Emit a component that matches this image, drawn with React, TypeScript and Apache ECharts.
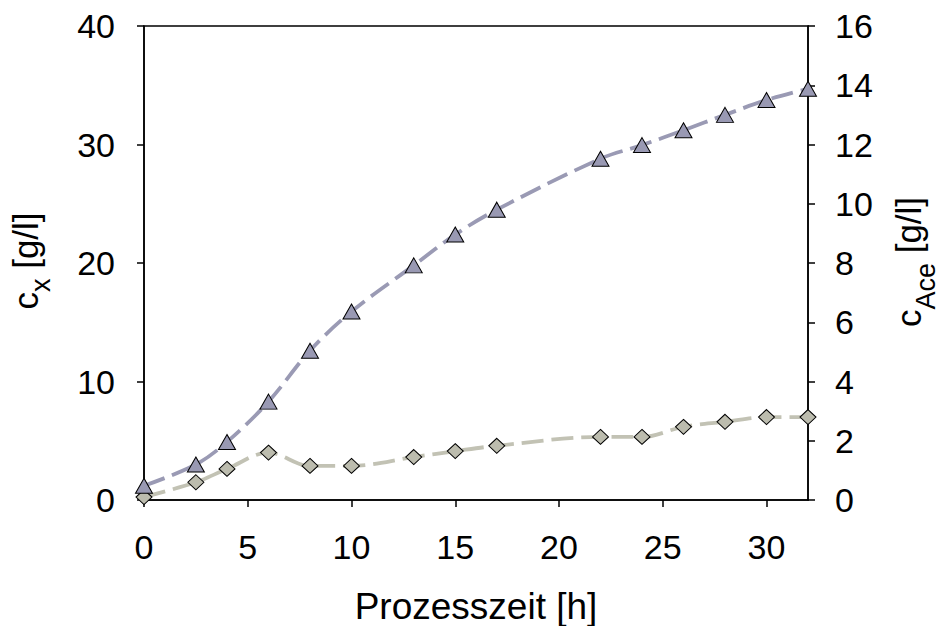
import React, { useEffect, useRef } from "react";
import * as echarts from "echarts";

const timeH = [0, 2.5, 4, 6, 8, 10, 13, 15, 17, 22, 24, 26, 28, 30, 32];
const biomass = [1.2, 3.0, 4.9, 8.3, 12.6, 15.9, 19.8, 22.4, 24.5, 28.8, 29.95, 31.2, 32.5, 33.75, 34.7];
const acetate = [0.1, 0.6, 1.05, 1.6, 1.15, 1.15, 1.45, 1.65, 1.83, 2.13, 2.13, 2.47, 2.64, 2.8, 2.8];
const xTicks = [0, 5, 10, 15, 20, 25, 30];

const FONT = "'Liberation Sans', Arial, sans-serif";
const MAIN_SIZE = 35;
const SUB_SIZE = 27;

function measure(text: string, size: number): number {
  const c = document.createElement("canvas");
  const ctx = c.getContext("2d");
  if (!ctx) return text.length * size * 0.55;
  ctx.font = `${size}px ${FONT}`;
  return ctx.measureText(text).width;
}

function subTitle(main: string, sub: string, rest: string, cx: number, cy: number, dy: number) {
  const w1 = measure(main, MAIN_SIZE);
  const w2 = measure(sub, SUB_SIZE);
  const w3 = measure(rest, MAIN_SIZE);
  const start = -(w1 + w2 + w3) / 2;
  const base = { fill: "#000", fontFamily: FONT, align: "left", verticalAlign: "middle" };
  return {
    type: "group",
    x: cx,
    y: cy,
    rotation: Math.PI / 2,
    children: [
      { type: "text", x: start, y: 0, style: { ...base, text: main, fontSize: MAIN_SIZE } },
      { type: "text", x: start + w1, y: dy, style: { ...base, text: sub, fontSize: SUB_SIZE } },
      { type: "text", x: start + w1 + w2, y: 0, style: { ...base, text: rest, fontSize: MAIN_SIZE } },
    ],
  };
}

export default function App() {
  const ref = useRef<HTMLDivElement>(null);
  useEffect(() => {
    if (!ref.current) return;
    const chart = echarts.init(ref.current, null, { renderer: "svg" });
    const labelStyle = { color: "#000", fontSize: 34, fontFamily: FONT };
    const axisLine = { show: true, lineStyle: { color: "#000", width: 1.5 } };
    const axisTick = { show: true, inside: false, length: 7, lineStyle: { color: "#000", width: 1.5 } };
    chart.setOption({
      animation: false,
      backgroundColor: "#fff",
      grid: { left: 144, top: 26, right: 132, bottom: 126, show: true, borderColor: "#000", borderWidth: 1.5, containLabel: false },
      xAxis: {
        type: "value",
        min: 0,
        max: 32,
        interval: 5,
        axisLine,
        axisTick: { ...axisTick, customValues: xTicks },
        axisLabel: { ...labelStyle, margin: 30, customValues: xTicks },
        splitLine: { show: false },
      },
      yAxis: [
        {
          type: "value",
          min: 0,
          max: 40,
          interval: 10,
          position: "left",
          axisLine,
          axisTick,
          axisLabel: { ...labelStyle, margin: 29 },
          splitLine: { show: false },
        },
        {
          type: "value",
          min: 0,
          max: 16,
          interval: 2,
          position: "right",
          axisLine,
          axisTick,
          axisLabel: { ...labelStyle, margin: 27 },
          splitLine: { show: false },
        },
      ],
      series: [
        {
          type: "line",
          yAxisIndex: 1,
          data: timeH.map((t, i) => [t, acetate[i]]),
          smooth: 0.35,
          clip: false,
          symbol: "diamond",
          symbolSize: [16, 15],
          lineStyle: { color: "#c2c2b4", width: 3.8, type: [22, 8] },
          itemStyle: { color: "#bcbcae", borderColor: "#000", borderWidth: 1 },
          z: 2,
        },
        {
          type: "line",
          yAxisIndex: 0,
          data: timeH.map((t, i) => [t, biomass[i]]),
          smooth: 0.35,
          clip: false,
          symbol: "triangle",
          symbolSize: [17, 15],
          lineStyle: { color: "#9a9ab4", width: 3.8, type: [22, 8] },
          itemStyle: { color: "#9999b3", borderColor: "#000", borderWidth: 1 },
          z: 3,
        },
      ],
      graphic: [
        {
          type: "text",
          x: 476,
          y: 606,
          style: { text: "Prozesszeit [h]", fill: "#000", fontSize: 37, fontFamily: FONT, align: "center", verticalAlign: "middle" },
        },
        subTitle("c", "x", " [g/l]", 25, 261, 16),
        subTitle("c", "Ace", " [g/l]", 908, 262, 18),
      ],
    });
    return () => chart.dispose();
  }, []);
  return <div ref={ref} style={{ position: "fixed", left: 0, top: 0, width: 940, height: 626, background: "#fff" }} />;
}
